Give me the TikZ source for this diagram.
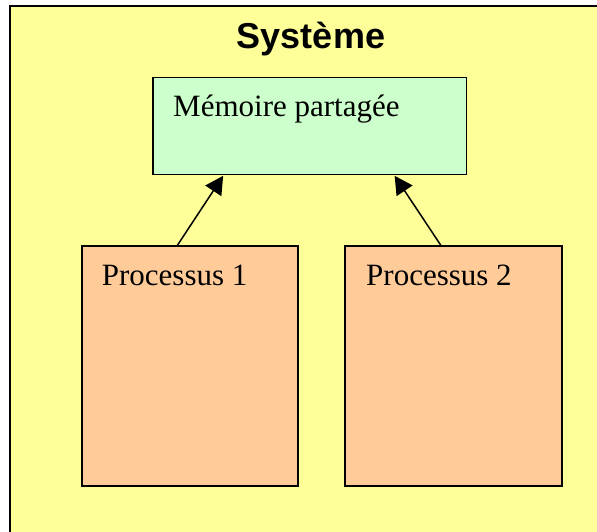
\documentclass[tikz,border=0pt]{standalone}
\usepackage{fontspec}
\setmainfont{Liberation Serif}
\newfontfamily\titlefont{Liberation Sans}
\usetikzlibrary{arrows.meta,calc}

\definecolor{sysyellow}{HTML}{FFFF99}
\definecolor{memgreen}{HTML}{CCFFCC}
\definecolor{procorange}{HTML}{FFCC99}

\tikzset{
  box/.style={draw=black, line width=1.6pt, inner sep=0pt, anchor=north west},
  boxtext/.style={anchor=base west, inner sep=0pt,
    font=\fontsize{31}{37}\selectfont},
  link/.style={draw=black, line width=1.5pt,
    -{Triangle[length=18pt,width=19pt]}, shorten >=0.5pt}
}

\begin{document}
\begin{tikzpicture}[x=1pt,y=-1pt]
  \clip (0,0) rectangle (597,532);
  \fill[white] (0,0) rectangle (597,532);

  % system frame (runs past the right and bottom edges)
  \draw[fill=sysyellow, line width=2.4pt] (10,6) rectangle (620,560);
  \node[anchor=base, inner sep=0pt, font=\titlefont\bfseries\fontsize{36}{42}\selectfont]
    (title) at (311,48.3) {Système};

  % shared memory
  \node[box, fill=memgreen, line width=1.4pt,
        minimum width=313.4pt, minimum height=97.3pt] (mem) at (152.3,76.7) {};
  \node[boxtext] (memtxt) at ($(mem.north west)+(20.7,40)$) {Mémoire partagée};

  % processes
  \node[box, fill=procorange, minimum width=216pt, minimum height=240pt]
    (p1) at (81,245) {};
  \node[boxtext] (p1txt) at ($(p1.north west)+(20.7,40)$) {Processus 1};

  \node[box, fill=procorange, minimum width=217pt, minimum height=240pt]
    (p2) at (344,245) {};
  \node[boxtext] (p2txt) at ($(p2.north west)+(22,40)$) {Processus 2};

  % accesses to the shared memory
  \draw[link] ($(p1.north west)!0.444!(p1.north east)$)
           -- ($(mem.south west)!0.226!(mem.south east)$);
  \draw[link] ($(p2.north west)!0.442!(p2.north east)$)
           -- ($(mem.south west)!0.769!(mem.south east)$);
\end{tikzpicture}
\end{document}
